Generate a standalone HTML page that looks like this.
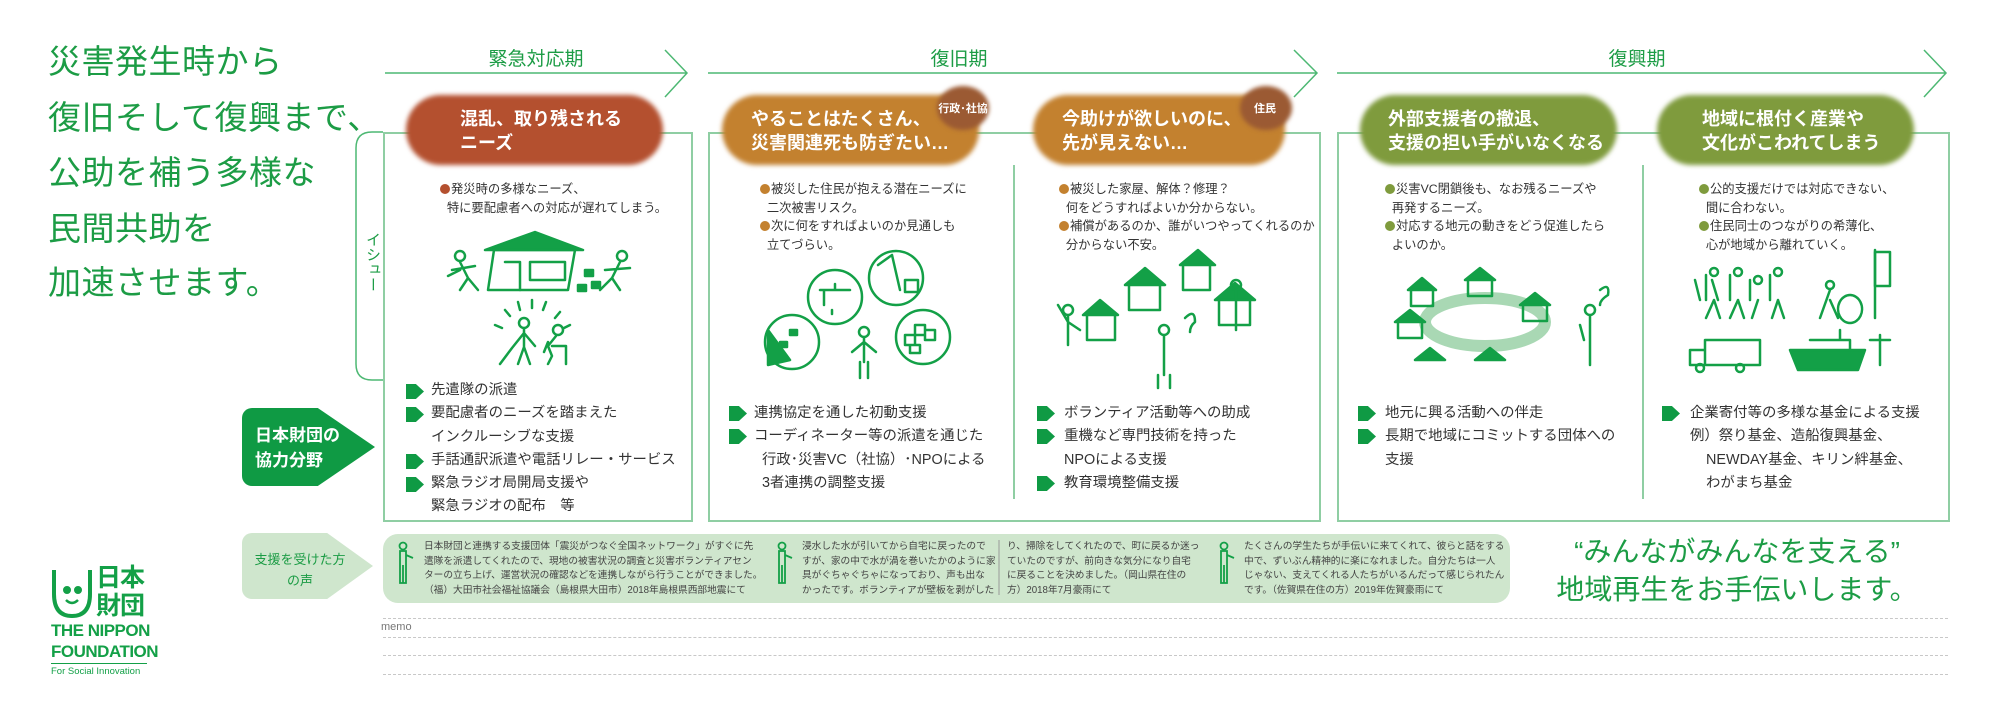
<!DOCTYPE html>
<html><head><meta charset="utf-8">
<style>
*{margin:0;padding:0;box-sizing:border-box}
body{width:2000px;height:706px;background:#fff;position:relative;overflow:hidden;font-family:"Liberation Sans","Noto Sans CJK JP",sans-serif;color:#333}
.a{position:absolute;white-space:nowrap}
.hero{left:48px;font-size:33px;color:#1c9c45;line-height:1;letter-spacing:0.5px}
.phase{font-size:19px;color:#1c9c45;transform:translateX(-50%)}
.pill{position:absolute;height:70px;border-radius:35px;filter:blur(2.5px)}
.pt{position:absolute;color:#fff;font-weight:bold;font-size:18px;line-height:24px;white-space:nowrap}
.badge{position:absolute;border-radius:50%;filter:blur(2px)}
.bt{position:absolute;color:#fff;font-weight:bold;font-size:11px;white-space:nowrap;transform:translate(-50%,-50%)}
.box{position:absolute;border:2px solid #8fcea3}
.div{position:absolute;width:2px;background:#8fcea3}
.iss{font-size:12.3px;line-height:18.7px;color:#333;position:absolute;white-space:nowrap}
.iss .d{display:inline-block;width:10px;height:10px;border-radius:50%;margin-right:1px;vertical-align:-1px}
.sup{position:absolute;font-size:14.4px;line-height:23.3px;color:#333;white-space:nowrap}
.sup .r{position:relative;padding-left:0}
.mk{position:absolute;width:18px;height:15px;background:#0f9a44;clip-path:polygon(0 0,55% 0,100% 50%,55% 100%,0 100%)}
.voice{position:absolute;font-size:9.7px;line-height:14.6px;color:#444;white-space:nowrap}
.dash{position:absolute;left:383px;width:1565px;border-top:1.5px dashed #c8c8c8}
</style></head><body>

<div class="a hero" style="top:45px">災害発生時から</div>
<div class="a hero" style="top:101px">復旧そして復興まで、</div>
<div class="a hero" style="top:156px">公助を補う多様な</div>
<div class="a hero" style="top:212px">民間共助を</div>
<div class="a hero" style="top:266px">加速させます。</div>

<!-- phase labels -->
<div class="a phase" style="left:536px;top:44px">緊急対応期</div>
<div class="a phase" style="left:959px;top:44px">復旧期</div>
<div class="a phase" style="left:1637px;top:44px">復興期</div>

<svg class="a" style="left:0;top:0" width="2000" height="706">
 <g stroke="#4db873" stroke-width="1.5" fill="none">
  <path d="M385 73H687M665 50L687 73L665 97"/>
  <path d="M708 73H1317M1294 50L1317 73L1294 97"/>
  <path d="M1337 73H1946M1924 50L1946 73L1924 97"/>
 </g>
 <!-- issue bracket -->
 <path d="M383 132H372Q356 132 356 148V364Q356 380 372 380H383" stroke="#4db873" stroke-width="1.5" fill="none"/>
</svg>

<!-- boxes -->
<div class="box" style="left:383px;top:132px;width:310px;height:390px"></div>
<div class="box" style="left:708px;top:132px;width:613px;height:390px"></div>
<div class="div" style="left:1013px;top:165px;height:334px"></div>
<div class="box" style="left:1337px;top:132px;width:613px;height:390px"></div>
<div class="div" style="left:1642px;top:165px;height:334px"></div>

<div class="a" style="left:362px;top:232px;writing-mode:vertical-rl;font-size:15px;color:#1c9c45">イシュー</div>

<!-- pills -->
<div class="pill" style="left:406px;top:95px;width:257px;background:#b4502f"></div>
<div class="pt" style="left:460px;top:107px">混乱、取り残される<br>ニーズ</div>

<div class="pill" style="left:722px;top:95px;width:257px;background:#c3812f"></div>
<div class="badge" style="left:937px;top:86px;width:52px;height:44px;background:#9b5a33"></div>
<div class="bt" style="left:963px;top:108px">行政･社協</div>
<div class="pt" style="left:751px;top:107px">やることはたくさん、<br>災害関連死も防ぎたい…</div>

<div class="pill" style="left:1033px;top:95px;width:252px;background:#c3812f"></div>
<div class="badge" style="left:1240px;top:86px;width:52px;height:44px;background:#9b5a33"></div>
<div class="bt" style="left:1265px;top:108px">住民</div>
<div class="pt" style="left:1062px;top:107px">今助けが欲しいのに、<br>先が見えない…</div>

<div class="pill" style="left:1360px;top:95px;width:257px;background:#7f9b3d"></div>
<div class="pt" style="left:1388px;top:107px">外部支援者の撤退、<br>支援の担い手がいなくなる</div>

<div class="pill" style="left:1657px;top:95px;width:257px;background:#7f9b3d"></div>
<div class="pt" style="left:1702px;top:107px">地域に根付く産業や<br>文化がこわれてしまう</div>

<!-- issues -->
<div class="iss" style="left:440px;top:180px"><span class="d" style="background:#b4502f"></span>発災時の多様なニーズ、<br>&nbsp;&nbsp;特に要配慮者への対応が遅れてしまう。</div>
<div class="iss" style="left:760px;top:180px"><span class="d" style="background:#c3812f"></span>被災した住民が抱える潜在ニーズに<br>&nbsp;&nbsp;二次被害リスク。<br><span class="d" style="background:#c3812f"></span>次に何をすればよいのか見通しも<br>&nbsp;&nbsp;立てづらい。</div>
<div class="iss" style="left:1059px;top:180px"><span class="d" style="background:#c3812f"></span>被災した家屋、解体？修理？<br>&nbsp;&nbsp;何をどうすればよいか分からない。<br><span class="d" style="background:#c3812f"></span>補償があるのか、誰がいつやってくれるのか<br>&nbsp;&nbsp;分からない不安。</div>
<div class="iss" style="left:1385px;top:180px"><span class="d" style="background:#7f9b3d"></span>災害VC閉鎖後も、なお残るニーズや<br>&nbsp;&nbsp;再発するニーズ。<br><span class="d" style="background:#7f9b3d"></span>対応する地元の動きをどう促進したら<br>&nbsp;&nbsp;よいのか。</div>
<div class="iss" style="left:1699px;top:180px"><span class="d" style="background:#7f9b3d"></span>公的支援だけでは対応できない、<br>&nbsp;&nbsp;間に合わない。<br><span class="d" style="background:#7f9b3d"></span>住民同士のつながりの希薄化、<br>&nbsp;&nbsp;心が地域から離れていく。</div>

<!-- illustrations -->
<svg class="a" style="left:0;top:0" width="2000" height="706" fill="none" stroke="#13a047" stroke-width="2.5" stroke-linecap="round" stroke-linejoin="round">
 <!-- box1 -->
 <path d="M485 250L535 232L583 250Z" fill="#13a047"/>
 <path d="M494 250L488 290H568L575 250Z"/>
 <path d="M505 262H520V290M530 262H565V280H530Z"/>
 <circle cx="460" cy="256" r="5"/><path d="M460 262L468 278L460 290M468 278L478 290M452 270L475 266M460 270L448 276"/>
 <circle cx="622" cy="256" r="5"/><path d="M620 262L612 278L620 290M612 278L600 290M605 270L630 268"/>
 <path d="M585 270h8v6h-8zM592 282h8v6h-8zM578 285h8v6h-8z" fill="#13a047"/>
 <circle cx="524" cy="323" r="5"/><path d="M524 329V347L518 364M524 347L530 364M524 333L512 348L500 364M524 333L535 346"/>
 <circle cx="558" cy="330" r="5"/><path d="M556 336L548 346L552 356L548 364M552 346L566 346V364M548 342L544 352"/>
 <path d="M532 300V308M518 302L520 310M546 302L543 310M505 310L510 316M560 312L555 318M495 325L502 328M570 325L564 328"/>
 <!-- box2 col1 -->
 <circle cx="835" cy="297" r="27"/><path d="M820 290H850M835 284V290M824 290V305M832 310v4"/>
 <circle cx="896" cy="278" r="27"/><path d="M878 265L892 255L900 290M905 280H918V292H905Z"/>
 <circle cx="792" cy="342" r="27"/><path d="M768 330L790 360L768 365Z" fill="#13a047"/><path d="M790 330h7v5h-7zM780 342h7v5h-7z" fill="#13a047"/>
 <circle cx="923" cy="337" r="27"/><path d="M905 335h10v10h-10zM915 325h10v10h-10zM925 330h10v10h-10zM910 345h10v8h-10z"/>
 <circle cx="864" cy="332" r="5"/><path d="M864 338V362M860 362V378M868 362V378M864 342L852 352M864 342L876 352"/>
 <!-- box2 col2 -->
 <path d="M1083 315L1100 300L1118 315Z" fill="#13a047"/><path d="M1087 315V340H1115V315"/>
 <path d="M1125 285L1145 268L1165 285Z" fill="#13a047"/><path d="M1129 285V310H1160V285"/>
 <path d="M1180 265L1198 250L1215 265Z" fill="#13a047"/><path d="M1183 265V290H1210V265"/>
 <path d="M1215 300L1235 283L1255 300Z" fill="#13a047"/><path d="M1219 300V325H1250V300"/>
 <circle cx="1068" cy="310" r="5"/><path d="M1068 316V345M1068 322L1058 305M1068 322L1080 330"/>
 <circle cx="1164" cy="330" r="5"/><path d="M1164 336V375M1158 375V388M1170 375V388"/>
 <circle cx="1236" cy="285" r="5"/><path d="M1236 291V330"/>
 <path d="M1185 318Q1195 308 1195 322Q1190 326 1190 332"/>
 <!-- box3 col1 -->
 <ellipse cx="1485" cy="322" rx="60" ry="24" stroke="#a9d8b4" stroke-width="12"/>
 <path d="M1395 322L1410 310L1425 322ZM1408 290L1422 278L1436 290ZM1465 280L1480 268L1495 280ZM1520 305L1535 293L1550 305ZM1415 360L1430 348L1445 360ZM1475 360L1490 348L1505 360Z" fill="#13a047"/>
 <path d="M1398 322V338H1422V322M1411 290V306H1433V290M1468 280V296H1492V280M1523 305V321H1547V305"/>
 <circle cx="1590" cy="310" r="5"/><path d="M1590 316V365M1584 340L1580 325M1600 290Q1610 282 1608 295Q1600 300 1600 305"/>
 <!-- box3 col2 -->
 <path d="M1706 275V300M1695 280L1700 300M1712 280L1718 300M1730 275V300M1750 280V300M1770 275V300M1714 300L1706 318M1714 300L1720 318M1738 300L1730 318M1738 300L1744 318M1758 300L1752 318M1778 300L1772 318M1778 300L1784 318"/>
 <circle cx="1714" cy="272" r="4"/><circle cx="1738" cy="272" r="4"/><circle cx="1758" cy="280" r="4"/><circle cx="1778" cy="272" r="4"/>
 <circle cx="1830" cy="285" r="4"/><path d="M1830 290L1820 318M1830 300L1838 318M1850 295a12 14 0 1 0 .1 0"/>
 <path d="M1875 252H1890V286H1875Z"/><path d="M1875 250V318"/>
 <path d="M1705 340H1760V365H1705ZM1705 350H1690V365H1705"/><circle cx="1700" cy="368" r="4"/><circle cx="1740" cy="368" r="4"/>
 <path d="M1790 350H1865L1858 370H1798Z" fill="#13a047"/><path d="M1810 340H1850V350M1840 330V340M1880 335V365M1870 340H1890"/>
</svg>

<!-- support lists -->
<div class="sup" style="left:431px;top:379px">先遣隊の派遣<br>要配慮者のニーズを踏まえた<br>インクルーシブな支援<br>手話通訳派遣や電話リレー・サービス<br>緊急ラジオ局開局支援や<br>緊急ラジオの配布　等</div>
<div class="mk" style="left:406px;top:384px"></div><div class="mk" style="left:406px;top:407px"></div><div class="mk" style="left:406px;top:454px"></div><div class="mk" style="left:406px;top:477px"></div>

<div class="sup" style="left:754px;top:402px">連携協定を通した初動支援<br>コーディネーター等の派遣を通じた<br>&nbsp;&nbsp;行政･災害VC（社協）･NPOによる<br>&nbsp;&nbsp;3者連携の調整支援</div>
<div class="mk" style="left:729px;top:406px"></div><div class="mk" style="left:729px;top:429px"></div>

<div class="sup" style="left:1064px;top:402px">ボランティア活動等への助成<br>重機など専門技術を持った<br>NPOによる支援<br>教育環境整備支援</div>
<div class="mk" style="left:1037px;top:406px"></div><div class="mk" style="left:1037px;top:429px"></div><div class="mk" style="left:1037px;top:476px"></div>

<div class="sup" style="left:1385px;top:402px">地元に興る活動への伴走<br>長期で地域にコミットする団体への<br>支援</div>
<div class="mk" style="left:1358px;top:406px"></div><div class="mk" style="left:1358px;top:429px"></div>

<div class="sup" style="left:1690px;top:402px">企業寄付等の多様な基金による支援<br>例）祭り基金、造船復興基金、<br>&nbsp;&nbsp;&nbsp;&nbsp;NEWDAY基金、キリン絆基金、<br>&nbsp;&nbsp;&nbsp;&nbsp;わがまち基金</div>
<div class="mk" style="left:1662px;top:406px"></div>

<!-- left tabs -->
<div class="a" style="left:242px;top:408px;width:133px;height:78px;background:#0f9a44;clip-path:polygon(0 0,57% 0,100% 50%,57% 100%,0 100%);border-radius:10px 0 0 10px"></div>
<div class="a" style="left:255px;top:423px;color:#fff;font-weight:bold;font-size:17px;line-height:25px">日本財団の<br>協力分野</div>
<div class="a" style="left:242px;top:533px;width:131px;height:66px;background:#cfe6cd;clip-path:polygon(0 0,65% 0,100% 50%,65% 100%,0 100%);border-radius:10px 0 0 10px"></div>
<div class="a" style="left:250px;top:549px;width:100px;text-align:center;color:#1c9c45;font-size:13px;line-height:21px">支援を受けた方<br>の声</div>

<!-- voice banner -->
<div class="a" style="left:383px;top:534px;width:1127px;height:69px;background:#cfe6cd;border-radius:15px"></div>
<svg class="a" style="left:0;top:0" width="2000" height="706" fill="none" stroke="#13a047" stroke-width="1.8">
 <g id="p"><circle cx="403" cy="546" r="3.5"/><path d="M400 551H406V583H400Z M403 565V583M406 555L413 558"/></g>
 <circle cx="782" cy="546" r="3.5"/><path d="M779 551H785V583H779ZM782 565V583M785 555L792 558"/>
 <circle cx="1224" cy="546" r="3.5"/><path d="M1221 551H1227V583H1221ZM1224 565V583M1227 555L1234 558"/>
 <path d="M999 540V595" stroke="#999" stroke-width="1"/>
</svg>
<div class="voice" style="left:424px;top:540px">日本財団と連携する支援団体「震災がつなぐ全国ネットワーク」がすぐに先<br>遣隊を派遣してくれたので、現地の被害状況の調査と災害ボランティアセン<br>ターの立ち上げ、運営状況の確認などを連携しながら行うことができました。<br>（福）大田市社会福祉協議会（島根県大田市）2018年島根県西部地震にて</div>
<div class="voice" style="left:802px;top:540px">浸水した水が引いてから自宅に戻ったので<br>すが、家の中で水が渦を巻いたかのように家<br>具がぐちゃぐちゃになっており、声も出な<br>かったです。ボランティアが壁板を剥がした</div>
<div class="voice" style="left:1007px;top:540px">り、掃除をしてくれたので、町に戻るか迷っ<br>ていたのですが、前向きな気分になり自宅<br>に戻ることを決めました。（岡山県在住の<br>方）2018年7月豪雨にて</div>
<div class="voice" style="left:1244px;top:540px">たくさんの学生たちが手伝いに来てくれて、彼らと話をする<br>中で、ずいぶん精神的に楽になれました。自分たちは一人<br>じゃない、支えてくれる人たちがいるんだって感じられたん<br>です。（佐賀県在住の方）2019年佐賀豪雨にて</div>

<!-- tagline -->
<div class="a" style="left:1737px;top:533px;transform:translateX(-50%);font-size:28px;color:#1c9c45;text-align:center;line-height:38px">“みんながみんなを支える”<br>地域再生をお手伝いします。</div>

<!-- memo -->
<div class="dash" style="top:618px"></div>
<div class="dash" style="top:637px"></div>
<div class="dash" style="top:655px"></div>
<div class="dash" style="top:674px"></div>
<div class="a" style="left:381px;top:621px;font-size:11px;color:#777">memo</div>

<!-- logo -->
<svg class="a" style="left:50px;top:566px" width="100" height="58" fill="none" stroke="#13a047" stroke-width="4">
 <path d="M4 4V28Q4 50 22 50Q40 50 40 28V4"/>
 <circle cx="17" cy="24" r="2" fill="#13a047"/><circle cx="28" cy="24" r="2" fill="#13a047"/>
 <path d="M16 34Q22 40 28 34" stroke-width="2.5"/>
</svg>
<div class="a" style="left:96px;top:564px;font-size:25px;line-height:28px;color:#13a047;font-weight:bold;letter-spacing:-1px">日本<br>財団</div>
<div class="a" style="left:51px;top:620px;font-size:17px;line-height:21px;color:#13a047;font-weight:bold;letter-spacing:-0.5px">THE NIPPON<br>FOUNDATION</div>
<div class="a" style="left:51px;top:663px;width:96px;border-top:1px solid #13a047"></div>
<div class="a" style="left:51px;top:666px;font-size:9.5px;color:#13a047">For Social Innovation</div>
</body></html>
